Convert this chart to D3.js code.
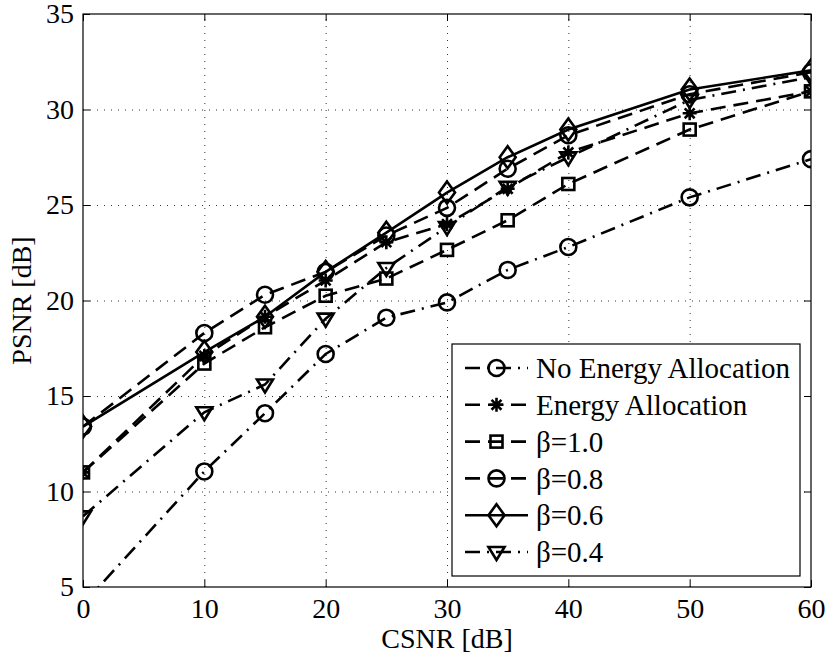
<!DOCTYPE html>
<html>
<head>
<meta charset="utf-8">
<script src="https://cdn.jsdelivr.net/npm/d3@7"></script>
<style>
  body { margin: 0; background: #fff; }
  text { font-family: "Liberation Serif", "Times New Roman", serif; fill: #000; }
</style>
</head>
<body>
<div id="chart"></div>
<script>
/** Chart data */
const csnr = [0, 10, 15, 20, 25, 30, 35, 40, 50, 60];
const noEnergy = [4.1, 11.05, 14.1, 17.2, 19.1, 19.9, 21.6, 22.8, 25.4, 27.4];
const energy = [11.0, 17.1, 19.15, 21.05, 23.05, 24.0, 25.85, 27.75, 29.8, 30.95];
const beta10 = [11.0, 16.7, 18.6, 20.25, 21.15, 22.65, 24.2, 26.1, 28.95, 30.95];
const beta08 = [13.4, 18.3, 20.3, 21.5, 23.4, 24.85, 26.9, 28.65, 30.8, 31.95];
const beta06 = [13.4, 17.3, 19.15, 21.5, 23.55, 25.65, 27.5, 28.95, 31.05, 32.05];
const beta04 = [8.7, 14.15, 15.6, 19.05, 21.7, 23.85, 25.95, 27.5, 30.5, 31.7];

const seriesNames = ["No Energy Allocation", "Energy Allocation", "β=1.0", "β=0.8", "β=0.6", "β=0.4"];
const xTicks = [0, 10, 20, 30, 40, 50, 60];
const yTicks = [5, 10, 15, 20, 25, 30, 35];

/** Graph configs */
const width = 830;
const height = 657;
const margin = { left: 83, right: 19, top: 14, bottom: 70 };

const dashed = "15,8";
const dashDot = "15,7,2,7";
const styles = [
  { dash: dashDot, marker: "circle" },
  { dash: dashed, marker: "asterisk" },
  { dash: dashed, marker: "square" },
  { dash: dashed, marker: "circle" },
  { dash: null, marker: "diamond" },
  { dash: dashDot, marker: "triangle" },
];
const values = [noEnergy, energy, beta10, beta08, beta06, beta04];

const x = d3.scaleLinear().domain([0, 60]).range([margin.left, width - margin.right]);
const y = d3.scaleLinear().domain([5, 35]).range([height - margin.bottom, margin.top]);

const svg = d3.select("#chart").append("svg")
  .attr("width", width).attr("height", height);

svg.append("defs").append("clipPath").attr("id", "plot")
  .append("rect")
  .attr("x", x(0)).attr("y", y(35))
  .attr("width", x(60) - x(0)).attr("height", y(5) - y(35));

/** Grid */
const grid = svg.append("g").attr("stroke", "#333").attr("stroke-width", 1).attr("stroke-dasharray", "1,6");
grid.selectAll("line.gx").data(xTicks.slice(1, -1)).enter().append("line")
  .attr("x1", (d) => x(d) + 0.5).attr("x2", (d) => x(d) + 0.5)
  .attr("y1", y(5)).attr("y2", y(35));
grid.selectAll("line.gy").data(yTicks.slice(1, -1)).enter().append("line")
  .attr("y1", (d) => y(d) + 0.5).attr("y2", (d) => y(d) + 0.5)
  .attr("x1", x(0)).attr("x2", x(60));

/** Axes (MATLAB style box with inner ticks) */
const tickLen = 7;
const fontSize = 28;
svg.append("g").attr("transform", `translate(0,${y(5)})`)
  .call(d3.axisBottom(x).tickValues(xTicks).tickSize(-tickLen).tickPadding(11))
  .call((g) => g.select(".domain").remove());
svg.append("g").attr("transform", `translate(0,${y(35)})`)
  .call(d3.axisTop(x).tickValues(xTicks).tickSize(-tickLen).tickFormat(""))
  .call((g) => g.select(".domain").remove());
svg.append("g").attr("transform", `translate(${x(0)},0)`)
  .call(d3.axisLeft(y).tickValues(yTicks).tickSize(-tickLen).tickPadding(9))
  .call((g) => g.select(".domain").remove());
svg.append("g").attr("transform", `translate(${x(60)},0)`)
  .call(d3.axisRight(y).tickValues(yTicks).tickSize(-tickLen).tickFormat(""))
  .call((g) => g.select(".domain").remove());

svg.selectAll(".tick line").attr("stroke", "#000");
svg.selectAll(".tick text")
  .style("font-family", '"Liberation Serif", "Times New Roman", serif')
  .style("font-size", fontSize + "px").attr("fill", "#000");

svg.append("rect")
  .attr("x", x(0)).attr("y", y(35))
  .attr("width", x(60) - x(0)).attr("height", y(5) - y(35))
  .attr("fill", "none").attr("stroke", "#000").attr("stroke-width", 1.2);

/** Axis labels */
svg.append("text")
  .attr("x", (x(0) + x(60)) / 2).attr("y", 648)
  .attr("text-anchor", "middle").style("font-size", "28px")
  .text("CSNR [dB]");
svg.append("text")
  .attr("transform", `translate(31,${(y(5) + y(35)) / 2}) rotate(-90)`)
  .attr("text-anchor", "middle").style("font-size", "28px")
  .text("PSNR [dB]");

/** Marker drawing */
const drawMarker = (g, type, cx, cy) => {
  const m = g.append("g").attr("transform", `translate(${cx},${cy})`)
    .attr("fill", "none").attr("stroke", "#000").attr("stroke-width", 2.6);
  if (type === "circle") {
    m.append("circle").attr("r", 8);
  } else if (type === "square") {
    m.append("rect").attr("x", -6).attr("y", -6).attr("width", 12).attr("height", 12);
  } else if (type === "diamond") {
    m.append("path").attr("d", "M0,-11L8,0L0,11L-8,0Z");
  } else if (type === "triangle") {
    m.append("path").attr("d", "M-8,-5L8,-5L0,8Z");
  } else if (type === "asterisk") {
    const r = 7, s = r * Math.SQRT1_2;
    m.append("path")
      .attr("d", `M${-r},0L${r},0M0,${-r}L0,${r}M${-s},${-s}L${s},${s}M${-s},${s}L${s},${-s}`);
  }
};

/** Series */
const line = d3.line().x((d) => x(d[0])).y((d) => y(d[1]));
const plot = svg.append("g").attr("clip-path", "url(#plot)");

values.forEach((vals, i) => {
  const pts = csnr.map((c, j) => [c, vals[j]]);
  const g = plot.append("g");
  g.append("path")
    .attr("d", line(pts))
    .attr("fill", "none").attr("stroke", "#000").attr("stroke-width", 2.6)
    .attr("stroke-dasharray", styles[i].dash);
  pts.forEach((p) => drawMarker(g, styles[i].marker, x(p[0]), y(p[1])));
});

/** Legend */
const lx = 452, ly = 344, lw = 348, lh = 232;
const legend = svg.append("g");
legend.append("rect")
  .attr("x", lx).attr("y", ly).attr("width", lw).attr("height", lh)
  .attr("fill", "#fff").attr("stroke", "#000").attr("stroke-width", 1.2);

seriesNames.forEach((name, i) => {
  const cy = 368 + i * 36.8;
  legend.append("line")
    .attr("x1", 465).attr("x2", 528).attr("y1", cy).attr("y2", cy)
    .attr("stroke", "#000").attr("stroke-width", 2.6)
    .attr("stroke-dasharray", styles[i].dash);
  drawMarker(legend, styles[i].marker, 496.5, cy);
  legend.append("text")
    .attr("x", 536).attr("y", cy).attr("dy", "0.35em")
    .style("font-size", "29px")
    .text(name);
});
</script>
</body>
</html>
